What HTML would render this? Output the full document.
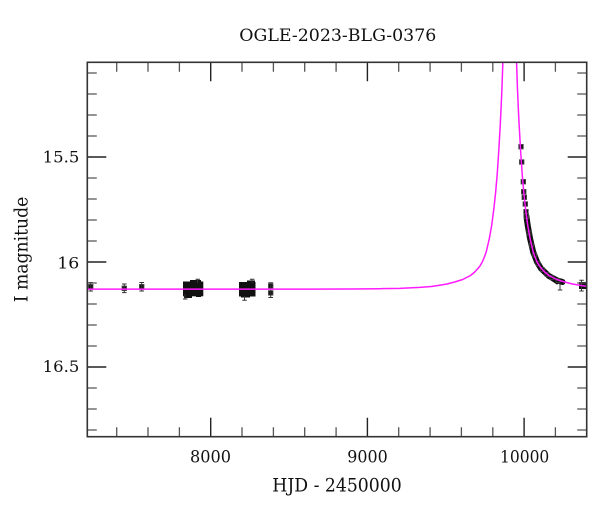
<!DOCTYPE html>
<html>
<head>
<meta charset="utf-8">
<style>
html,body{margin:0;padding:0;background:#fff;}
svg{display:block;}
text{font-family:"DejaVu Serif","Liberation Serif",serif;fill:#111;}
</style>
</head>
<body>
<svg width="600" height="512" viewBox="0 0 600 512" xmlns="http://www.w3.org/2000/svg">
<defs>
<clipPath id="pa"><rect x="87.3" y="62.3" width="499.4" height="374.4"/></clipPath>
</defs>
<rect width="600" height="512" fill="#fff"/>

<!-- Title -->
<text x="239.3" y="41" font-size="17" textLength="197" lengthAdjust="spacingAndGlyphs">OGLE-2023-BLG-0376</text>

<!-- Data (clipped) -->
<g clip-path="url(#pa)">
  <!-- baseline isolated points -->
  <g fill="#111" stroke="#555" stroke-width="0.8">
    <rect x="88.4" y="284.4" width="4.6" height="4.6"/>
    <rect x="122" y="286" width="4.6" height="4.6"/>
    <rect x="139.4" y="284.4" width="4.6" height="4.6"/>
    <rect x="268.4" y="283.6" width="4.6" height="4.6"/>
    <rect x="268.4" y="290.6" width="4.6" height="4.6"/>
  </g>
  <g stroke="#333" stroke-width="1" fill="none">
    <path d="M90.7 282.5V291 M88.5 282.5H93 M88.5 291H93"/>
    <path d="M124.3 284V292.6 M122 284H126.6 M122 292.6H126.6"/>
    <path d="M141.7 282.5V291 M139.4 282.5H144 M139.4 291H144"/>
    <path d="M270.7 282.8V297.5 M268.4 282.8H273 M268.4 297.5H273"/>
  </g>
  <!-- cluster A -->
  <g fill="#111">
    <rect x="183" y="281.5" width="20.3" height="14.8"/>
    <rect x="190" y="280" width="11" height="3"/>
    <rect x="184" y="295" width="8" height="3"/>
    <rect x="196" y="295" width="5" height="2"/>
  </g>
  <g stroke="#333" stroke-width="1">
    <path d="M197.5 279.3V283 M195.5 279.3H200 M185 294V299 M183 299H187.5"/>
  </g>
  <!-- cluster B -->
  <g fill="#111">
    <rect x="239" y="282" width="16.5" height="14.5"/>
    <rect x="247" y="280.5" width="8" height="3"/>
    <rect x="241" y="295" width="9" height="2.5"/>
  </g>
  <g stroke="#333" stroke-width="1">
    <path d="M252 279.3V283 M249.8 279.3H254.5 M244.5 296V300.3 M242.3 300.3H246.8"/>
  </g>
  <!-- decay band -->
  <polyline fill="none" stroke="#111" stroke-width="6" stroke-linejoin="round" stroke-linecap="round"
    points="526.4,216 527.7,225.3 530.1,238.7 533.2,252 537.1,262 541,268.5 548.9,276 556.7,280.2 562.5,282"/>
  <polyline fill="none" stroke="#111" stroke-width="3" points="545,273 552,279.5 558,283.5"/>
  <g fill="#111" stroke="#555" stroke-width="0.6">
    <rect x="527" y="231" width="4" height="4"/>
    <rect x="529.5" y="243" width="4" height="4"/>
    <rect x="532.5" y="253" width="4" height="4"/>
    <rect x="536" y="261.5" width="4" height="4"/>
    <rect x="540.5" y="267.5" width="4" height="4"/>
    <rect x="545" y="272.5" width="4" height="4"/>
    <rect x="550" y="275.5" width="4" height="4"/>
    <rect x="556" y="278.5" width="4" height="4"/>
  </g>
  <g stroke="#333" stroke-width="1">
    <path d="M560 283V290 M557.8 290H562.3"/>
  </g>
  <g fill="#111" stroke="#555" stroke-width="0.8">
    <rect x="518.7" y="144.4" width="4.6" height="4.6"/>
    <rect x="519.4" y="159.7" width="4.6" height="4.6"/>
    <rect x="521" y="179.4" width="4.6" height="4.6"/>
    <rect x="521.4" y="189.4" width="4.6" height="4.6"/>
    <rect x="522" y="195" width="4.6" height="4.6"/>
    <rect x="523" y="201.7" width="4.6" height="4.6"/>
    <rect x="523.7" y="209.4" width="4.6" height="4.6"/>
    <rect x="524" y="213.7" width="4.6" height="4.6"/>
  </g>
  <!-- right end cluster -->
  <g fill="#111">
    <rect x="579" y="282" width="8" height="7"/>
  </g>
  <g stroke="#333" stroke-width="1">
    <path d="M581.5 280.3V291 M579.3 280.3H583.8 M579.3 291H583.8"/>
  </g>

  <!-- model curve -->
  <polyline fill="none" stroke="#ff1aff" stroke-width="1.5" stroke-linejoin="round"
    points="87.3,289.1 309.7,289.1 349.7,289.0 379.7,288.7 399.7,288.4 419.7,287.4 431.3,286.5 439.7,285.3 447,284 454.7,282 462.7,279.5 470.5,275.5 474.7,272 478.4,268 480.4,265.3 482.3,262 484.2,257.5 486.2,252 489.3,238.7 491.7,225.3 494,207.5 495.6,192.6 497.2,174.3 498.7,152 500.3,124.2 501.1,107.8 501.9,89.3 502.65,68.3 503.1,54.1 503.5,40"/>
  <polyline fill="none" stroke="#ff1aff" stroke-width="1.5" stroke-linejoin="round"
    points="515.9,40 516.3,54.1 516.75,68.3 517.5,89.3 518.3,107.8 519.1,124.2 520.7,152 522.2,174.3 523.8,192.6 525.4,207.5 527.7,225.3 530.1,238.7 533.2,252 535.2,257.5 537.1,262 539,265.3 541,268 544.7,272 548.9,275.5 556.7,279.5 564.7,282 572.4,284 579.7,285.3 588.1,286.5"/>
</g>

<!-- Ticks -->
<g stroke="#555" stroke-width="1.3" fill="none">
  <path d="M116.7 436.7V427.2 M148 436.7V427.2 M179.4 436.7V427.2 M242 436.7V427.2 M273.4 436.7V427.2 M304.7 436.7V427.2 M336.1 436.7V427.2 M398.7 436.7V427.2 M430.1 436.7V427.2 M461.4 436.7V427.2 M492.8 436.7V427.2 M555.4 436.7V427.2"/>
  <path d="M116.7 62.3V71.8 M148 62.3V71.8 M179.4 62.3V71.8 M242 62.3V71.8 M273.4 62.3V71.8 M304.7 62.3V71.8 M336.1 62.3V71.8 M398.7 62.3V71.8 M430.1 62.3V71.8 M461.4 62.3V71.8 M492.8 62.3V71.8 M555.4 62.3V71.8"/>
  <path d="M87.3 73H96.8 M87.3 94H96.8 M87.3 115H96.8 M87.3 136H96.8 M87.3 178H96.8 M87.3 199H96.8 M87.3 220H96.8 M87.3 241H96.8 M87.3 283H96.8 M87.3 304H96.8 M87.3 325H96.8 M87.3 346H96.8 M87.3 388H96.8 M87.3 409H96.8 M87.3 430H96.8"/>
  <path d="M586.7 73H577.2 M586.7 94H577.2 M586.7 115H577.2 M586.7 136H577.2 M586.7 178H577.2 M586.7 199H577.2 M586.7 220H577.2 M586.7 241H577.2 M586.7 283H577.2 M586.7 304H577.2 M586.7 325H577.2 M586.7 346H577.2 M586.7 388H577.2 M586.7 409H577.2 M586.7 430H577.2"/>
</g>
<g stroke="#222" stroke-width="1.4" fill="none">
  <path d="M210.7 436.7V417.7 M367.4 436.7V417.7 M524.1 436.7V417.7"/>
  <path d="M210.7 62.3V81.3 M367.4 62.3V81.3 M524.1 62.3V81.3"/>
  <path d="M87.3 157H106.3 M87.3 262H106.3 M87.3 367H106.3"/>
  <path d="M586.7 157H567.7 M586.7 262H567.7 M586.7 367H567.7"/>
</g>

<!-- Frame -->
<rect x="87.3" y="62.3" width="499.4" height="374.4" fill="none" stroke="#333" stroke-width="1.6"/>

<!-- X tick labels -->
<text x="190" y="462.3" font-size="16.7" textLength="41" lengthAdjust="spacingAndGlyphs">8000</text>
<text x="347.3" y="462.3" font-size="16.7" textLength="40.4" lengthAdjust="spacingAndGlyphs">9000</text>
<text x="500" y="462.3" font-size="16.7" textLength="49.3" lengthAdjust="spacingAndGlyphs">10000</text>

<!-- Y tick labels -->
<text x="42.7" y="162.7" font-size="16" textLength="36.6" lengthAdjust="spacingAndGlyphs">15.5</text>
<text x="57.3" y="268.5" font-size="16" textLength="22" lengthAdjust="spacingAndGlyphs">16</text>
<text x="42.7" y="372" font-size="16" textLength="36.6" lengthAdjust="spacingAndGlyphs">16.5</text>

<!-- Axis titles -->
<text x="272.3" y="491.7" font-size="18.5" textLength="129.4" lengthAdjust="spacingAndGlyphs">HJD - 2450000</text>
<text transform="translate(27.3,302.3) rotate(-90)" x="0" y="0" font-size="18.5" textLength="105.6" lengthAdjust="spacingAndGlyphs">I magnitude</text>
</svg>
</body>
</html>
